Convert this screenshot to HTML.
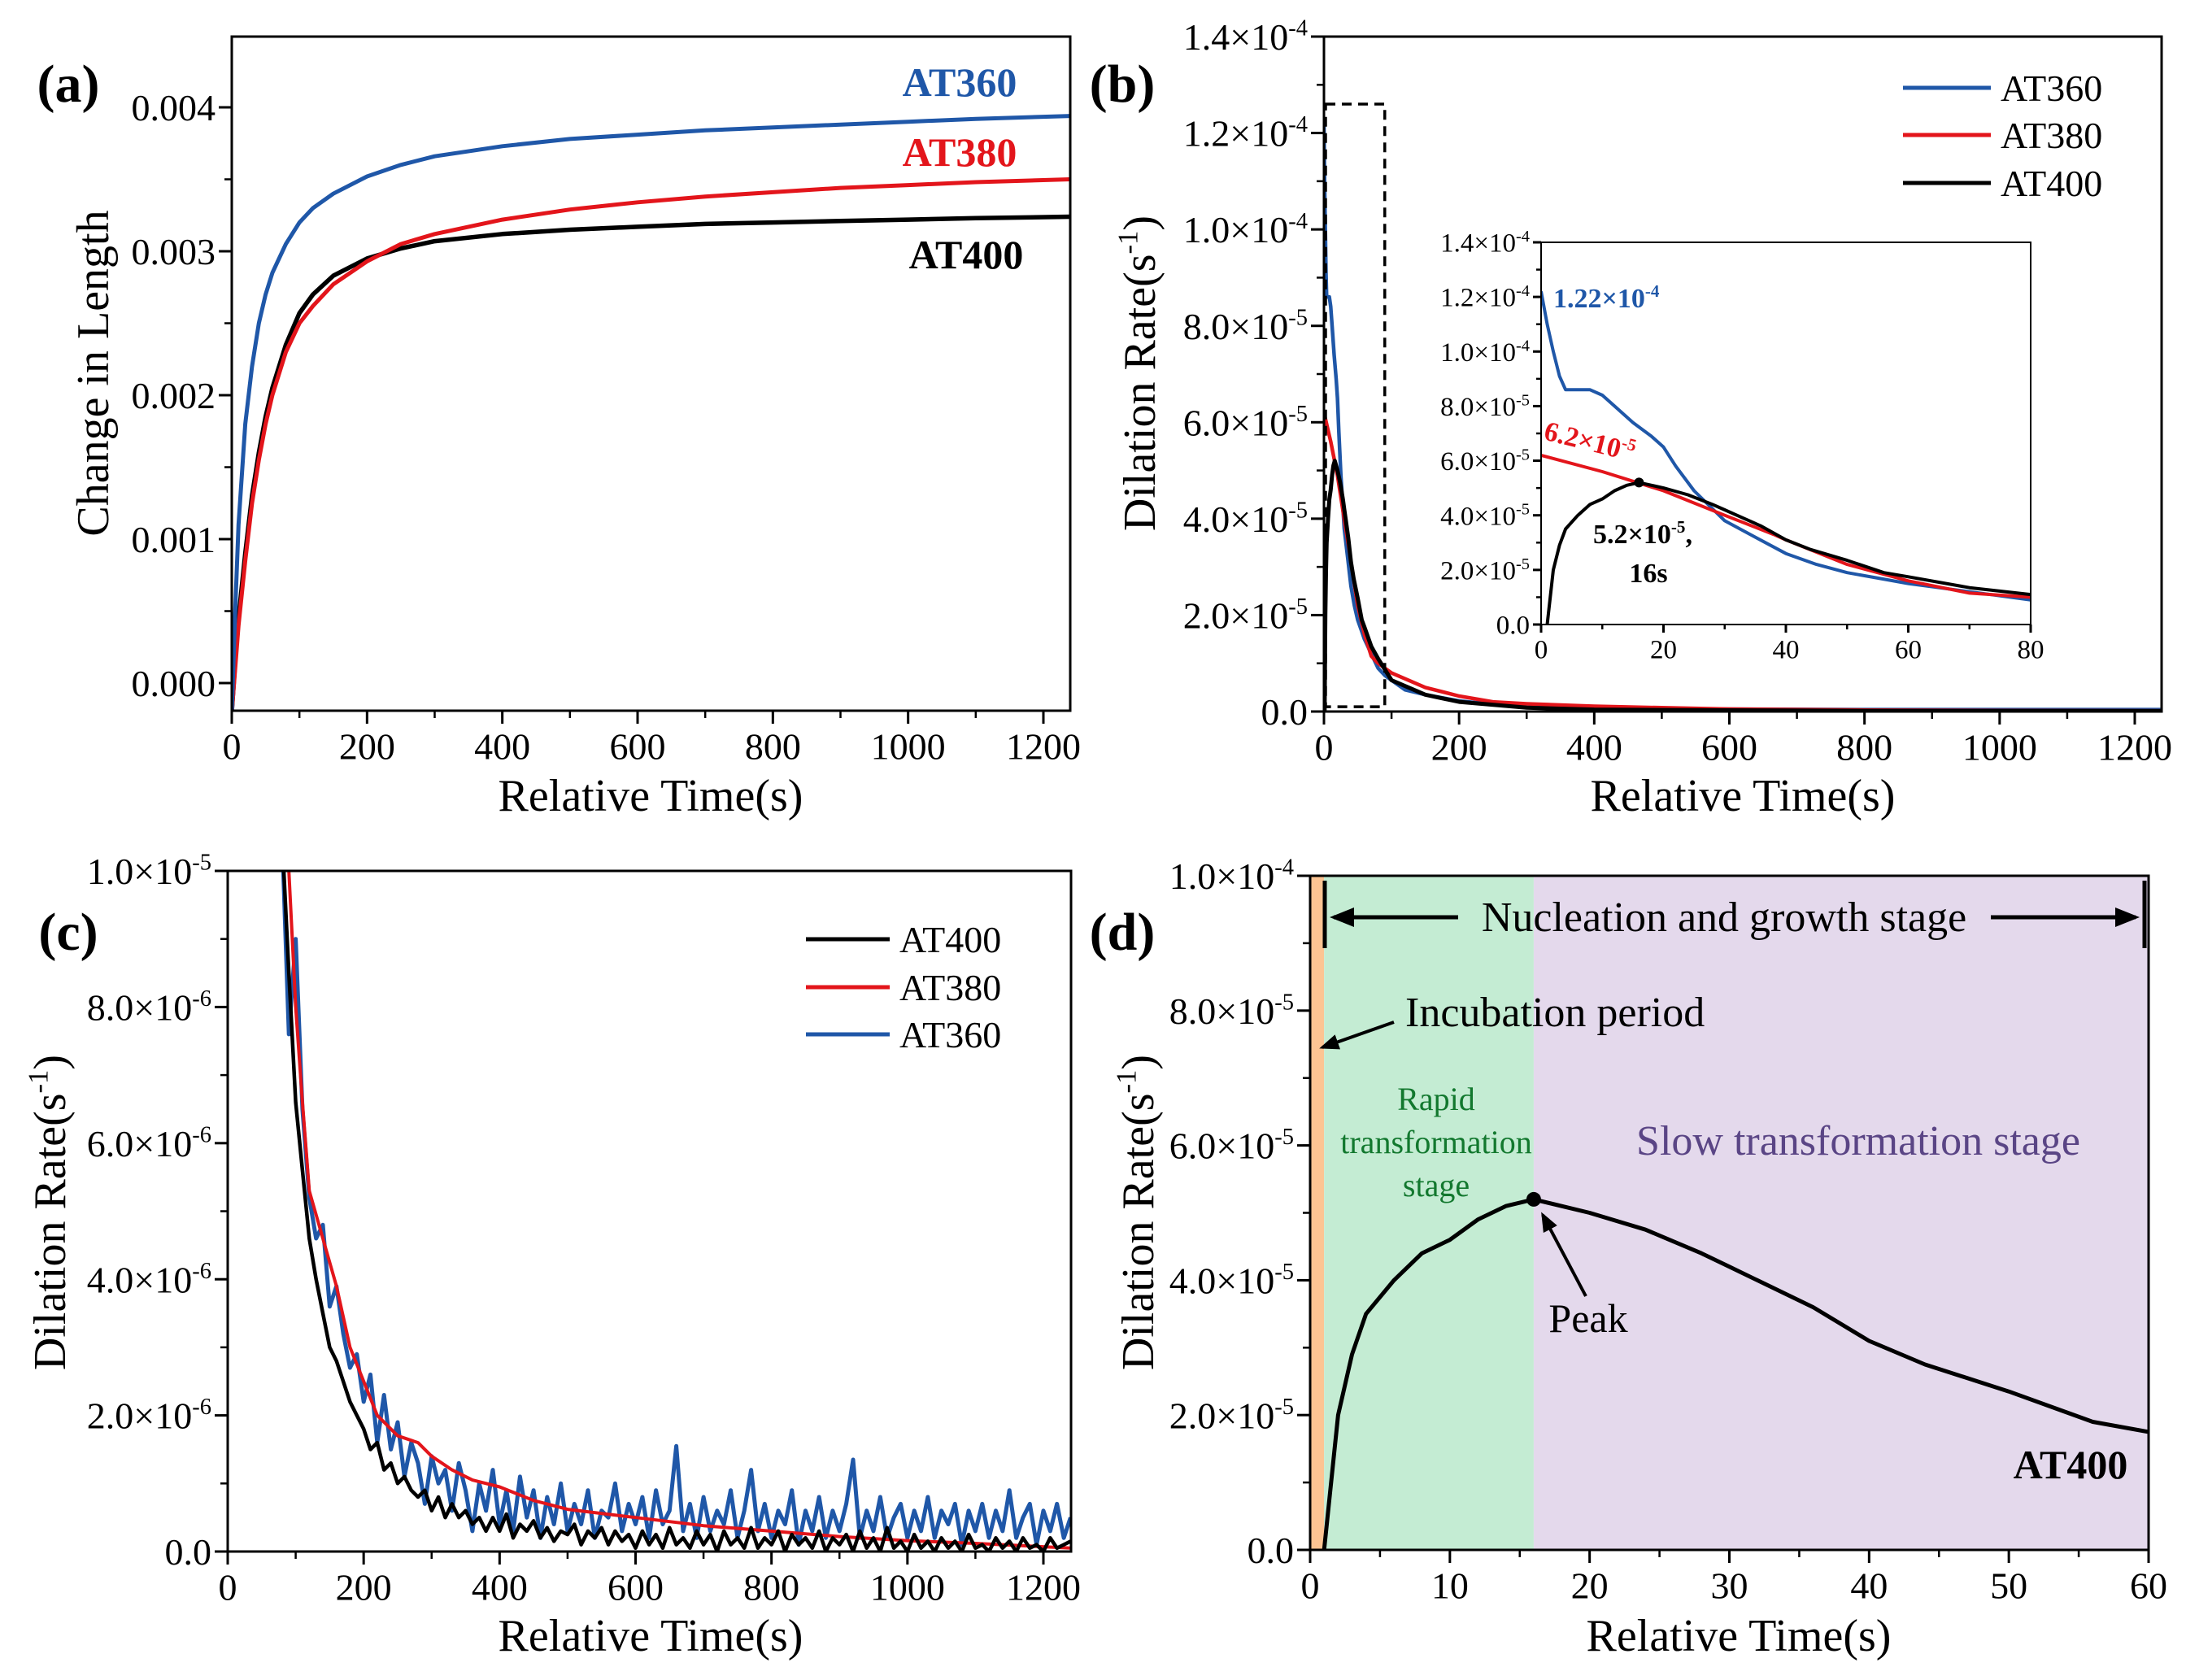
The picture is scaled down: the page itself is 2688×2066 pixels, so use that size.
<!DOCTYPE html>
<html><head><meta charset="utf-8"><style>
html,body{margin:0;padding:0;background:#fff}
svg{display:block}
text{font-family:"Liberation Serif","DejaVu Serif",serif}
</style></head><body>
<svg id="fig" width="2688" height="2066" viewBox="0 0 2688 2066" xmlns="http://www.w3.org/2000/svg" font-family="Liberation Serif, serif">
<defs>
<marker id="ah" markerWidth="6" markerHeight="6" refX="5" refY="3" orient="auto"><path d="M0,0.6 L6,3 L0,5.4 Z" fill="#000"/></marker>
</defs>
</svg>
<script>
// ---------- Panel (a) data ----------
const aTime = [0,5,10,20,30,40,50,60,80,100,120,150,200,250,300,400,500,600,700,800,900,1000,1100,1240];
const a360 = [-0.2,0.5,1.1,1.8,2.2,2.5,2.7,2.85,3.05,3.2,3.3,3.4,3.52,3.6,3.66,3.73,3.78,3.81,3.84,3.86,3.88,3.9,3.92,3.94];
const a380 = [-0.2,0.1,0.4,0.85,1.25,1.55,1.8,2.0,2.3,2.5,2.62,2.77,2.93,3.05,3.12,3.22,3.29,3.34,3.38,3.41,3.44,3.46,3.48,3.5];
const a400 = [-0.2,0.15,0.45,0.9,1.3,1.6,1.85,2.05,2.35,2.57,2.7,2.83,2.95,3.02,3.07,3.12,3.15,3.17,3.19,3.2,3.21,3.22,3.23,3.24];
const aYTicks = [0,1,2,3,4];
const aYLabels = ["0.000","0.001","0.002","0.003","0.004"];
const timeTicks = [0,200,400,600,800,1000,1200];
const timeLabels = ["0","200","400","600","800","1000","1200"];

// ---------- Panel (b) data (values in 1e-5 s^-1) ----------
const b360T = [0,1,2,3,4,6,8,10,12,15,18,20,22,25,30,35,40,45,50,55,60,70,80,90,100,120,150,200,250,300,400,500,600,800,1000,1240];
const b360V = [12.2,11,10,9.1,8.6,8.6,8.6,8.4,8.0,7.4,6.9,6.5,5.8,4.9,3.8,3.2,2.6,2.2,1.9,1.7,1.5,1.2,0.9,0.75,0.65,0.45,0.35,0.22,0.15,0.11,0.07,0.05,0.05,0.04,0.04,0.04];
const b380T = [0,10,20,30,38,40,50,60,70,80,100,150,200,250,300,400,500,600,800,1000,1240];
const b380V = [6.2,5.6,4.9,4.0,3.3,3.1,2.2,1.6,1.15,1.0,0.8,0.5,0.32,0.2,0.16,0.11,0.08,0.05,0.03,0.02,0.015];
const b400T = [1,2,3,4,6,8,10,12,14,16,20,24,28,30,32,36,40,44,50,56,60,70,80,100,150,200,300,400,600,800,1240];
const b400V = [0,2.0,2.9,3.5,4.0,4.4,4.6,4.9,5.1,5.2,5.0,4.75,4.4,4.2,4.0,3.6,3.1,2.75,2.35,1.9,1.75,1.35,1.1,0.65,0.35,0.2,0.08,0.04,0.025,0.015,0.01];
const bYTicks = [0,2,4,6,8,10,12,14];
const bYMant = ["0.0","2.0","4.0","6.0","8.0","1.0","1.2","1.4"];
const bYExp = ["","-5","-5","-5","-5","-4","-4","-4"];
const insetXTicks = [0,20,40,60,80];
const insetXLabels = ["0","20","40","60","80"];

// ---------- Panel (c) data (values in 1e-6 s^-1), sampled every 10 s from 80 s ----------
const cStart = 80, cStep = 10;
const c360 = [10.5,7.6,9,6.5,5.2,4.6,4.8,3.6,3.9,3.2,2.7,2.9,2.2,2.6,1.6,2.3,1.5,1.9,1.1,1.6,1.3,0.7,1.4,1.0,1.2,0.6,1.3,0.9,0.3,1.0,0.6,1.2,0.4,0.9,0.3,1.1,0.5,0.9,0.2,0.8,0.4,1.0,0.3,0.7,0.4,0.9,0.2,0.6,0.5,1.0,0.3,0.7,0.4,0.8,0.2,0.9,0.4,0.6,1.55,0.3,0.7,0.2,0.8,0.3,0.6,0.4,0.9,0.2,0.6,1.2,0.3,0.7,0.2,0.6,0.4,0.9,0.1,0.6,0.3,0.8,0.2,0.6,0.3,0.7,1.35,0.2,0.6,0.3,0.8,0.2,0.5,0.7,0.2,0.6,0.3,0.8,0.2,0.6,0.4,0.7,0.1,0.6,0.3,0.7,0.2,0.6,0.3,0.9,0.2,0.5,0.7,0.1,0.6,0.3,0.7,0.2,0.5];
const c400 = [10.5,8.5,6.6,5.6,4.6,4.0,3.5,3.0,2.8,2.5,2.2,2.0,1.8,1.5,1.6,1.2,1.3,1.0,1.1,0.9,0.8,0.9,0.6,0.8,0.5,0.7,0.5,0.6,0.4,0.5,0.3,0.5,0.3,0.55,0.2,0.4,0.3,0.45,0.2,0.35,0.15,0.3,0.25,0.4,0.1,0.3,0.2,0.35,0.1,0.3,0.15,0.25,0.05,0.3,0.1,0.25,0.05,0.35,0.1,0.2,0.05,0.3,0.1,0.25,0.0,0.3,0.1,0.2,0.05,0.35,0.05,0.2,0.1,0.3,0.0,0.25,0.1,0.2,0.05,0.3,0.0,0.2,0.1,0.25,0.0,0.3,0.05,0.2,0.0,0.35,0.05,0.15,0.0,0.25,0.05,0.15,0.0,0.2,0.05,0.15,0.0,0.25,0.05,0.1,0.0,0.2,0.05,0.15,0.0,0.2,0.05,0.1,0.0,0.2,0.05,0.1,0.15];
const c380T = [90,100,110,120,140,160,180,200,220,250,280,300,330,360,400,450,500,600,700,800,900,1000,1100,1240];
const c380V = [10,8,6.6,5.3,4.6,3.9,3.0,2.5,2.0,1.7,1.6,1.4,1.2,1.05,0.95,0.75,0.62,0.5,0.38,0.3,0.22,0.16,0.12,0.05];
const cYTicks = [0,2,4,6,8,10];
const cYMant = ["0.0","2.0","4.0","6.0","8.0","1.0"];
const cYExp = ["","-6","-6","-6","-6","-5"];

// ---------- Panel (d) ----------
const dXTicks = [0,10,20,30,40,50,60];
const dXLabels = ["0","10","20","30","40","50","60"];
const dYTicks = [0,2,4,6,8,10];
const dYMant = ["0.0","2.0","4.0","6.0","8.0","1.0"];
const dYExp = ["","-5","-5","-5","-5","-4"];
const stageBounds = [0,1,16,60];
const peakT = [16];
const peakV = [5.2];

const BLUE="#1f57a8", RED="#e3151b", BLACK="#000";
const FONT = '"Liberation Serif", "DejaVu Serif", serif';
const svg = document.getElementById('fig');
const NS = "http://www.w3.org/2000/svg";

function lin(d0,d1,p0,p1){ return v => p0 + (v-d0)*(p1-p0)/(d1-d0); }

function addLine(x1,y1,x2,y2,w,color,name,extra){
  const el = document.createElementNS(NS,'line');
  el.setAttribute('x1',x1); el.setAttribute('y1',y1); el.setAttribute('x2',x2); el.setAttribute('y2',y2);
  el.setAttribute('stroke',color); el.setAttribute('stroke-width',w);
  if(extra) for(const k in extra) el.setAttribute(k,extra[k]);
  
  
  svg.appendChild(el); return el;
}
function addRect(x,y,w,h,fill,name,stroke,sw){
  const el = document.createElementNS(NS,'rect');
  el.setAttribute('x',x); el.setAttribute('y',y); el.setAttribute('width',w); el.setAttribute('height',h);
  el.setAttribute('fill',fill);
  if(stroke){ el.setAttribute('stroke',stroke); el.setAttribute('stroke-width',sw); }
  
  
  svg.appendChild(el); return el;
}
function addText(x,y,str,size,anchor,name,opts){
  opts = opts||{};
  const el = document.createElementNS(NS,'text');
  el.setAttribute('x',x); el.setAttribute('y',y);
  el.setAttribute('font-family',FONT);
  el.style.fontFamily = FONT;
  el.setAttribute('font-size',size); el.setAttribute('text-anchor',anchor);
  el.setAttribute('fill',opts.fill||'#000');
  if(opts.bold) el.setAttribute('font-weight','bold');
  if(opts.transform) el.setAttribute('transform',opts.transform);
  el.textContent = str;
  if(opts.sup){
    const t = document.createElementNS(NS,'tspan');
    t.setAttribute('dy', -size*0.38); t.setAttribute('font-size', size*0.62);
    t.textContent = opts.sup;
    el.appendChild(t);
    if(opts.after){
      const t2 = document.createElementNS(NS,'tspan');
      t2.setAttribute('dy', size*0.38); t2.setAttribute('font-size', size);
      t2.textContent = opts.after;
      el.appendChild(t2);
    }
  }
  
  
  svg.appendChild(el); return el;
}
function addPath(xs,ys,sx,sy,color,w,name,clip){
  let d='';
  for(let i=0;i<Math.min(xs.length,ys.length);i++){ d += (i?'L':'M') + sx(xs[i]).toFixed(1)+','+sy(ys[i]).toFixed(1); }
  const el = document.createElementNS(NS,'path');
  el.setAttribute('d',d); el.setAttribute('fill','none'); el.setAttribute('stroke',color);
  el.setAttribute('stroke-width',w); el.setAttribute('stroke-linejoin','round');
  if(clip) el.setAttribute('clip-path','url(#'+clip+')');
  
  
  svg.appendChild(el); return el;
}
function addClip(id,x,y,w,h){
  const cp = document.createElementNS(NS,'clipPath'); cp.setAttribute('id',id);
  const r = document.createElementNS(NS,'rect');
  r.setAttribute('x',x); r.setAttribute('y',y); r.setAttribute('width',w); r.setAttribute('height',h);
  cp.appendChild(r); svg.querySelector('defs').appendChild(cp);
}
function addDot(cx,cy,r,name){
  const el = document.createElementNS(NS,'circle');
  el.setAttribute('cx',cx); el.setAttribute('cy',cy); el.setAttribute('r',r); el.setAttribute('fill','#000');
  
  
  svg.appendChild(el);
}

function frame(p){
  const L=p.L,R=p.R,T=p.T,B=p.B;
  addRect(L,T,R-L,B-T,'none',p.id+'-frame','#000',p.fw||3);
  const tl=p.tl||16, ml=p.ml||9, fs=p.fs||46;
  p.xt.forEach((v,i)=>{
    const x=p.sx(v); addLine(x,B,x,B+tl,3,'#000',p.id+'-x-tick');
    addText(x,B+tl+fs*0.95,p.xl[i],fs,'middle',p.id+'-x-tick-label');
  });
  for(let v=p.xmin; v<=p.xmax+1e-9; v+=p.xminor){ const x=p.sx(v); if(x<=R+0.5) addLine(x,B,x,B+ml,2.5,'#000',p.id+'-x-minor-tick'); }
  p.yt.forEach((v,i)=>{
    const y=p.sy(v); addLine(L-tl,y,L,y,3,'#000',p.id+'-y-tick');
    if(p.yexp && p.yexp[i]) addText(L-tl-4,y+fs*0.35,p.ym[i]+'×10',fs,'end',p.id+'-y-tick-label',{sup:p.yexp[i]});
    else addText(L-tl-4,y+fs*0.35,p.ym[i],fs,'end',p.id+'-y-tick-label');
  });
  for(let v=p.ymin; v<=p.ymax+1e-9; v+=p.yminor){ const y=p.sy(v); if(y>=T-0.5) addLine(L-ml,y,L,y,2.5,'#000',p.id+'-y-minor-tick'); }
}

// ===== Panel (a) =====
{
  const p={id:'panel-a',L:285,R:1316,T:45,B:874};
  p.sx=lin(0,1200,285,1283); p.sy=lin(0,4,840,132);
  p.xt=timeTicks; p.xl=timeLabels; p.xmin=0; p.xmax=1240; p.xminor=100;
  p.yt=aYTicks; p.ym=aYLabels; p.ymin=0; p.ymax=4.4; p.yminor=0.5;
  addClip('clipA',p.L,p.T,p.R-p.L,p.B-p.T);
  addPath(aTime,a400,p.sx,p.sy,BLACK,5.5,'line-at400','clipA');
  addPath(aTime,a380,p.sx,p.sy,RED,5,'line-at380','clipA');
  addPath(aTime,a360,p.sx,p.sy,BLUE,5,'line-at360','clipA');
  frame(p);
  addText(1180,118,'AT360',50,'middle','label-at360',{bold:true,fill:BLUE});
  addText(1180,204,'AT380',50,'middle','label-at380',{bold:true,fill:RED});
  addText(1188,330,'AT400',50,'middle','label-at400',{bold:true});
  addText(800,997,'Relative Time(s)',56,'middle','x-axis-title-a');
  addText(0,0,'Change in Length',56,'middle','y-axis-title-a',{transform:'translate(133,459) rotate(-90)'});
  addText(84,125,'(a)',66,'middle','panel-label-a',{bold:true});
}

// ===== Panel (b) =====
{
  const p={id:'panel-b',L:1628,R:2658,T:45,B:875};
  p.sx=lin(0,1200,1628,2625); p.sy=lin(0,14,875,45);
  p.xt=timeTicks; p.xl=timeLabels; p.xmin=0; p.xmax=1240; p.xminor=100;
  p.yt=bYTicks; p.ym=bYMant; p.yexp=bYExp; p.ymin=0; p.ymax=14; p.yminor=1;
  addClip('clipB',p.L,p.T,p.R-p.L,p.B-p.T);
  addPath(b360T,b360V,p.sx,p.sy,BLUE,4.5,'line-at360-b','clipB');
  addPath(b380T,b380V,p.sx,p.sy,RED,4.5,'line-at380-b','clipB');
  addPath(b400T,b400V,p.sx,p.sy,BLACK,5,'line-at400-b','clipB');
  addRect(p.sx(0)+2,p.sy(12.6),p.sx(90)-p.sx(0)-2,p.sy(0.1)-p.sy(12.6),'none','zoom-region-box','#000',3.5).setAttribute('stroke-dasharray','12,8');
  frame(p);
  const ly=[108,166,225], lc=[BLUE,RED,BLACK], ln=['AT360','AT380','AT400'];
  ly.forEach((y,i)=>{ addLine(2340,y,2448,y,5,lc[i],'legend-line-b'); addText(2460,y+16,ln[i],46,'start','legend-label-b'); });
  addText(2143,997,'Relative Time(s)',56,'middle','x-axis-title-b');
  addText(0,0,'Dilation Rate(s',56,'middle','y-axis-title-b',{transform:'translate(1420,459) rotate(-90)',sup:'-1',after:')'});
  addText(1380,125,'(b)',66,'middle','panel-label-b',{bold:true});

  const q={id:'inset-b',L:1895,R:2497,T:298,B:768,fs:33,tl:10,ml:6,fw:2};
  q.sx=lin(0,80,1895,2497); q.sy=lin(0,14,768,298);
  q.xt=insetXTicks; q.xl=insetXLabels; q.xmin=0; q.xmax=80; q.xminor=10;
  q.yt=bYTicks; q.ym=bYMant; q.yexp=bYExp; q.ymin=0; q.ymax=14; q.yminor=1;
  addRect(q.L,q.T,q.R-q.L,q.B-q.T,'#fff','inset-background');
  addClip('clipI',q.L,q.T,q.R-q.L,q.B-q.T);
  addPath(b360T,b360V,q.sx,q.sy,BLUE,4,'inset-line-at360','clipI');
  addPath(b380T,b380V,q.sx,q.sy,RED,4,'inset-line-at380','clipI');
  addPath(b400T,b400V,q.sx,q.sy,BLACK,4,'inset-line-at400','clipI');
  addDot(q.sx(peakT[0]),q.sy(peakV[0]),6,'inset-peak-marker');
  frame(q);
  addText(1910,378,'1.22×10',34,'start','inset-max-label-at360',{bold:true,fill:BLUE,sup:'-4'});
  addText(0,0,'6.2×10',34,'start','inset-max-label-at380',{bold:true,fill:RED,sup:'-5',transform:'translate(1897,540) rotate(14)'});
  addText(2020,668,'5.2×10',34,'middle','inset-peak-label-at400',{bold:true,sup:'-5',after:','});
  addText(2027,716,'16s',34,'middle','inset-peak-time-label',{bold:true});
}

// ===== Panel (c) =====
{
  const p={id:'panel-c',L:280,R:1317,T:1071,B:1908};
  p.sx=lin(0,1200,280,1283); p.sy=lin(0,10,1908,1071);
  p.xt=timeTicks; p.xl=timeLabels; p.xmin=0; p.xmax=1240; p.xminor=100;
  p.yt=cYTicks; p.ym=cYMant; p.yexp=cYExp; p.ymin=0; p.ymax=10; p.yminor=1;
  const cT = [];
  for(let i=0;i<c360.length;i++) cT.push(cStart+cStep*i);
  addClip('clipC',p.L,p.T,p.R-p.L,p.B-p.T);
  addPath(cT,c360,p.sx,p.sy,BLUE,5,'line-at360-c','clipC');
  addPath(c380T,c380V,p.sx,p.sy,RED,4,'line-at380-c','clipC');
  addPath(cT,c400,p.sx,p.sy,BLACK,4.5,'line-at400-c','clipC');
  frame(p);
  const ly=[1155,1214,1272], lc=[BLACK,RED,BLUE], ln=['AT400','AT380','AT360'];
  ly.forEach((y,i)=>{ addLine(991,y,1094,y,5,lc[i],'legend-line-c'); addText(1106,y+16,ln[i],46,'start','legend-label-c'); });
  addText(800,2030,'Relative Time(s)',56,'middle','x-axis-title-c');
  addText(0,0,'Dilation Rate(s',56,'middle','y-axis-title-c',{transform:'translate(80,1491) rotate(-90)',sup:'-1',after:')'});
  addText(84,1168,'(c)',66,'middle','panel-label-c',{bold:true});
}

// ===== Panel (d) =====
{
  const p={id:'panel-d',L:1611,R:2642,T:1077,B:1906};
  p.sx=lin(0,60,1611,2642); p.sy=lin(0,10,1906,1077);
  p.xt=dXTicks; p.xl=dXLabels; p.xmin=0; p.xmax=60; p.xminor=5;
  p.yt=dYTicks; p.ym=dYMant; p.yexp=dYExp; p.ymin=0; p.ymax=10; p.yminor=1;
  const fills=['#fcc493','#c4ecd3','#e4d9ec'], names=['incubation-band','rapid-stage-band','slow-stage-band'];
  for(let i=0;i<3;i++){ addRect(p.sx(stageBounds[i]),p.T,p.sx(stageBounds[i+1])-p.sx(stageBounds[i]),p.B-p.T,fills[i],names[i]); }
  addClip('clipD',p.L,p.T,p.R-p.L,p.B-p.T);
  const dT=[], dV=[];
  for(let i=0;i<b400T.length;i++){ if(b400T[i]<=60){ dT.push(b400T[i]); dV.push(b400V[i]); } }
  addPath(dT,dV,p.sx,p.sy,BLACK,5,'line-at400-d','clipD');
  addDot(p.sx(peakT[0]),p.sy(peakV[0]),9,'peak-marker');
  frame(p);
  addLine(1629,1083,1629,1166,5,'#000','stage-start-bar');
  addLine(2637,1083,2637,1166,5,'#000','stage-end-bar');
  addLine(1793,1128,1640,1128,5,'#000','nucleation-arrow-left',{'marker-end':'url(#ah)'});
  addLine(2448,1128,2626,1128,5,'#000','nucleation-arrow-right',{'marker-end':'url(#ah)'});
  addText(2120,1145,'Nucleation and growth stage',52,'middle','nucleation-label');
  addText(1728,1262,'Incubation period',52,'start','incubation-label');
  addLine(1714,1257,1626,1288,4,'#000','incubation-arrow',{'marker-end':'url(#ah)'});
  addText(1766,1365,'Rapid',40,'middle','rapid-label-1',{fill:'#12782e'});
  addText(1766,1418,'transformation',40,'middle','rapid-label-2',{fill:'#12782e'});
  addText(1766,1471,'stage',40,'middle','rapid-label-3',{fill:'#12782e'});
  addText(2285,1420,'Slow transformation stage',52,'middle','slow-stage-label',{fill:'#5a4585'});
  addText(1953,1638,'Peak',50,'middle','peak-label');
  addLine(1950,1594,1897,1494,4,'#000','peak-arrow',{'marker-end':'url(#ah)'});
  addText(2546,1818,'AT400',50,'middle','label-at400-d',{bold:true});
  addText(2138,2030,'Relative Time(s)',56,'middle','x-axis-title-d');
  addText(0,0,'Dilation Rate(s',56,'middle','y-axis-title-d',{transform:'translate(1418,1491) rotate(-90)',sup:'-1',after:')'});
  addText(1380,1168,'(d)',66,'middle','panel-label-d',{bold:true});
}
</script>
</body></html>
